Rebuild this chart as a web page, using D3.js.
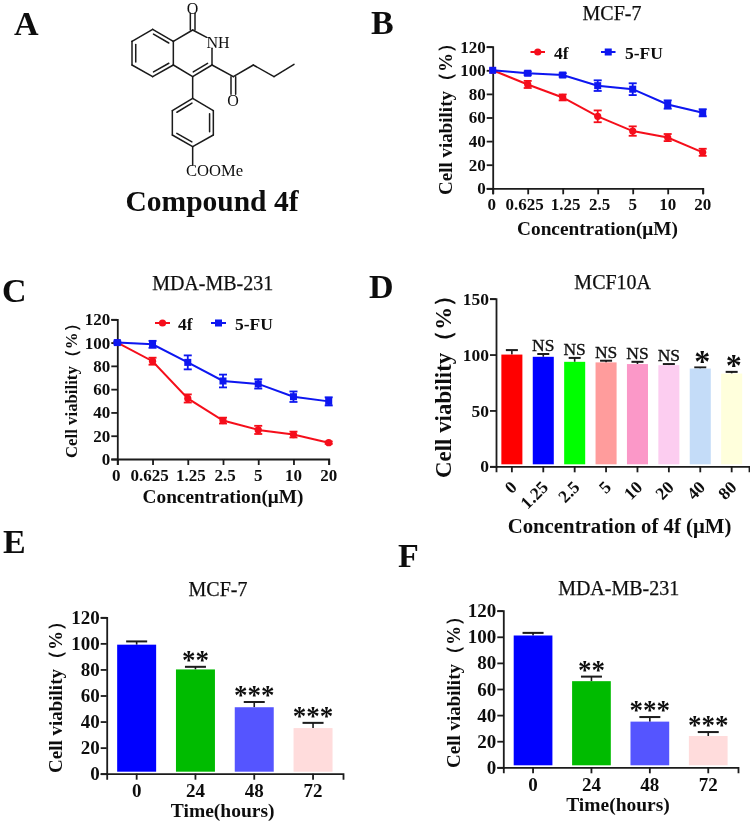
<!DOCTYPE html>
<html><head><meta charset="utf-8">
<style>
html,body{margin:0;padding:0;background:#fff}
svg{display:block}
text{font-family:"Liberation Serif",serif;fill:#111}
</style>
<script src="https://cdn.jsdelivr.net/npm/d3@7"></script>
</head><body><svg id="c" width="750" height="822"></svg>
<script>
// ---- data ----
const doseLabels = ["0","0.625","1.25","2.5","5","10","20"];
const seriesNames = ["4f","5-FU"];
const seriesColors = ["#f5111a","#0a14f0"];
const mcf7_4f = [100,88,77,61,48.5,43,30.5];
const mcf7_4fErr = [0,3,2.5,5,4,3,3];
const mcf7_fu = [100,97.5,96,87,84,71,64];
const mcf7_fuErr = [0,1.5,1.5,4.5,5,3.5,3];
const mda_4f = [100,84,52,33,25,21,14];
const mda_4fErr = [0,3,3.5,2.5,3.5,2.5,1];
const mda_fu = [100,98.5,83,67,64.5,53.5,49.5];
const mda_fuErr = [1,3,6,5.5,4,4.5,3.5];
const mcf10Labels = ["0","1.25","2.5","5","10","20","40","80"];
const mcf10Vals = [100,98,93.5,93,91.5,90.5,87.5,83];
const mcf10Err = [4,2.5,3.5,1.5,2,1,1,1.5];
const mcf10Sig = ["","NS","NS","NS","NS","NS","*","*"];
const mcf10Colors = ["#ff0000","#0000ff","#00ff00","#ff9c9c","#fb98c8","#fccdf0","#c4dcf8","#ffffdc"];
const timeLabels = ["0","24","48","72"];
const timeColors = ["#0000ff","#00bb00","#5555ff","#ffdcdc"];
const timeSig = ["","**","***","***"];
const timeMcf7 = [99,80,51,35];
const timeMcf7Err = [2.5,2,4,4];
const timeMda = [101,66,35,24];
const timeMdaErr = [2,3.5,3.5,3];

// molecule drawing: atoms in drawing units, bonds as atom pairs
const atoms = {a:[458,88],b:[520,124],c:[520,195],d:[458,230],e:[396,195],f:[396,124],
 g:[578,90],h:[578,40],i:[620,112],j:[636,145],k:[636,195],l:[578,230],m:[700,230],n:[700,283],
 o:[760,195],p:[822,230],q:[882,193],r:[578,295],s:[640,332],t:[640,405],u:[578,440],v:[517,405],w:[517,332],x:[578,495]};
const singleBonds = ["ab","bc","cd","de","ef","fa","bg","gi","jk","kl","lc","km","mo","op","pq","lr","rs","st","tu","uv","vw","wr","ux"];
const innerBonds = [["ab",7,"c"],["cd",7,"a"],["ef",7,"a"],["kl",7,"c"],["st",7,"u"],["uv",7,"r"],["wr",7,"u"]];
const doubleExo = ["gh","mn"];

const svg = d3.select("#c");
const ink = "#1a1a1a";
const root = svg.append("g").attr("filter","url(#soft)");
svg.append("defs").append("filter").attr("id","soft").attr("x",0).attr("y",0).attr("width","100%").attr("height","100%")
  .append("feGaussianBlur").attr("stdDeviation",0.45);

function txt(s,x,y,size,o={}){
  const t=root.append("text").attr("x",x).attr("y",y).attr("font-size",size).text(s)
    .attr("text-anchor",o.anchor||"middle");
  if(o.bold!==false) t.attr("font-weight","bold");
  if(o.heavy) t.attr("stroke","#111").attr("stroke-width",o.heavy);
  if(o.rot!==undefined) t.attr("transform",`rotate(${o.rot} ${x} ${y})`);
  return t;
}
// y titles start at the lower end of the axis title
function yTitle(x,yBottom,size){ return txt("Cell viability（%）",x,yBottom,size,{rot:-90,anchor:"start"}); }

function styleAxis(xa,ya,fs){
  [xa,ya].forEach(a=>{a.select(".domain").attr("stroke",ink).attr("stroke-width",1.8);
    a.selectAll(".tick line").attr("stroke",ink).attr("stroke-width",1.8);});
  ya.selectAll(".tick text").attr("font-family",'"Liberation Serif",serif').attr("font-weight","bold").attr("font-size",fs).attr("fill","#111");
}

// nudge of the crowded dose labels, as in the source figure
const doseNudge = {"0":-1,"0.625":-3,"1.25":3,"2.5":2};

function lineChart(c){
  const g=root.append("g");
  const x=d3.scalePoint().domain(doseLabels).range([c.x0,c.x1]);
  const y=d3.scaleLinear().domain([0,120]).range([c.y0,c.y1]);
  const xa=g.append("g").attr("transform",`translate(0,${c.y0})`).call(d3.axisBottom(x).tickSizeOuter(0).tickSize(6).tickFormat(""));
  const ya=g.append("g").attr("transform",`translate(${c.x0},0)`).call(d3.axisLeft(y).tickValues(d3.range(0,121,20)).tickSizeOuter(0).tickSize(6).tickPadding(1));
  styleAxis(xa,ya,c.fs);
  doseLabels.forEach(d=>txt(d,x(d)+(doseNudge[d]||0),c.y0+22,c.fs));
  const line=d3.line().x((d,i)=>x(doseLabels[i])).y(d=>y(d));
  c.series.forEach((s,k)=>{
    const col=seriesColors[k];
    g.append("path").datum(s.v).attr("d",line).attr("fill","none").attr("stroke",col).attr("stroke-width",2);
    s.v.forEach((v,i)=>{
      const X=x(doseLabels[i]),e=s.e[i];
      if(e>0){
        g.append("line").attr("x1",X).attr("x2",X).attr("y1",y(v-e)).attr("y2",y(v+e)).attr("stroke",col).attr("stroke-width",1.8);
        [v-e,v+e].forEach(w=>g.append("line").attr("x1",X-4).attr("x2",X+4).attr("y1",y(w)).attr("y2",y(w)).attr("stroke",col).attr("stroke-width",1.8));
      }
      marker(g,k,X,y(v),col);
    });
  });
  seriesNames.forEach((n,k)=>{
    const L=c.legend[k];
    g.append("line").attr("x1",L[0]).attr("x2",L[0]+L[3]).attr("y1",L[1]).attr("y2",L[1]).attr("stroke",seriesColors[k]).attr("stroke-width",2);
    marker(g,k,L[0]+L[3]/2,L[1],seriesColors[k]);
    txt(n,L[2],L[1]+6.5,c.fs+0.5,{anchor:"start"});
  });
}
function marker(g,k,X,Y,col){
  if(k===0) g.append("circle").attr("cx",X).attr("cy",Y).attr("r",3.6).attr("fill",col);
  else g.append("rect").attr("x",X-3.5).attr("y",Y-3.5).attr("width",7).attr("height",7).attr("fill",col);
}

function barChart(c){
  const g=root.append("g");
  const x=d3.scaleBand().domain(c.labels).range([c.x0,c.x1]).paddingInner(c.pi).paddingOuter(c.po).align(c.align);
  const y=d3.scaleLinear().domain(c.domain).range([c.y0,c.y1]);
  c.labels.forEach((l,i)=>{
    const X=x(l)+x.bandwidth()/2,top=c.v[i]+c.e[i];
    g.append("line").attr("x1",X).attr("x2",X).attr("y1",y(c.v[i])).attr("y2",y(top)).attr("stroke",ink).attr("stroke-width",1.6);
    g.append("line").attr("x1",X-c.cap).attr("x2",X+c.cap).attr("y1",y(top)).attr("y2",y(top)).attr("stroke",ink).attr("stroke-width",2);
    g.append("rect").attr("x",x(l)).attr("width",x.bandwidth()).attr("y",y(c.v[i])).attr("height",y(0)-y(c.v[i])-2).attr("fill",c.colors[i]);
    const s=c.sig[i];
    if(s==="NS") txt(s,X,y(top)-3,c.nsSize,{bold:false,heavy:.35});
    else if(s) txt(s,X+(s==="*"?2:0),y(top)+c.starDy,c.starSize);
  });
  const xa=g.append("g").attr("transform",`translate(0,${c.y0})`).call(d3.axisBottom(x).tickSizeOuter(0).tickSize(6).tickFormat(""));
  const ya=g.append("g").attr("transform",`translate(${c.x0},0)`).call(d3.axisLeft(y).tickValues(c.ticks).tickSizeOuter(0).tickSize(6).tickPadding(1));
  styleAxis(xa,ya,c.fs);
  c.labels.forEach(l=>{
    const X=x(l)+x.bandwidth()/2;
    if(c.rotated) txt(l,X+6,c.y0+22,c.fs,{anchor:"end",rot:-45});
    else txt(l,X,c.y0+c.labelDy,c.fs);
  });
}

// Panel letters
txt("A",14,35,34,{anchor:"start"});
txt("B",371,34,34,{anchor:"start"});
txt("C",2,302,34,{anchor:"start"});
txt("D",369,298,34,{anchor:"start"});
txt("E",3,553,34,{anchor:"start"});
txt("F",398,567,34,{anchor:"start"});

// Molecule
const mx=d3.scaleLinear().domain([0,3]).range([0,1]), my=mx;
const mol=root.append("g").attr("stroke",ink).attr("stroke-width",1.5).attr("fill","none").attr("stroke-linecap","round");
const P=k=>atoms[k];
const bond=(p,q)=>mol.append("line").attr("x1",mx(p[0])).attr("y1",my(p[1])).attr("x2",mx(q[0])).attr("y2",my(q[1]));
singleBonds.forEach(b=>bond(P(b[0]),P(b[1])));
innerBonds.forEach(([b,off,tow])=>{
  const p=P(b[0]),q=P(b[1]),t=P(tow);
  let nx=-(q[1]-p[1]),ny=q[0]-p[0];const len=Math.hypot(nx,ny);nx/=len;ny/=len;
  const side=((t[0]-p[0])*nx+(t[1]-p[1])*ny)>0?1:-1,o=off*1.6*side;
  const ux=(q[0]-p[0])*0.13,uy=(q[1]-p[1])*0.13;
  bond([p[0]+nx*o+ux,p[1]+ny*o+uy],[q[0]+nx*o-ux,q[1]+ny*o-uy]);
});
doubleExo.forEach(b=>{const p=P(b[0]),q=P(b[1]);bond([p[0]-7,p[1]],[q[0]-7,q[1]]);bond([p[0]+7,p[1]],[q[0]+7,q[1]]);});
txt("O",192.5,13.5,16,{bold:false});
txt("NH",206.5,47.5,16,{anchor:"start",bold:false});
txt("O",233,106,16,{bold:false});
txt("COOMe",186,176,16.6,{anchor:"start",bold:false});
txt("Compound 4f",212,211,29.5);

// B
txt("MCF-7",612,20,20,{bold:false,heavy:.25});
lineChart({x0:492.7,x1:702.7,y0:188.3,y1:46.7,fs:17,
  series:[{v:mcf7_4f,e:mcf7_4fErr},{v:mcf7_fu,e:mcf7_fuErr}],
  legend:[[530.5,52,554,14.5],[601,52,625,14.5]]});
yTitle(452,195,19);
txt("Concentration(μM)",597.5,235,19.3);

// C
txt("MDA-MB-231",212.7,290,20,{bold:false,heavy:.25});
lineChart({x0:117.3,x1:328.7,y0:459,y1:319.3,fs:17,
  series:[{v:mda_4f,e:mda_4fErr},{v:mda_fu,e:mda_fuErr}],
  legend:[[155,323,178,15],[211,323,235,15]]});
yTitle(77,458,16.8);
txt("Concentration(μM)",223,503,19.3);

// D
txt("MCF10A",612.7,289,20,{bold:false,heavy:.25});
barChart({labels:mcf10Labels,v:mcf10Vals,e:mcf10Err,sig:mcf10Sig,colors:mcf10Colors,x0:496,x1:749,y0:466.3,y1:298.7,
  domain:[0,150],ticks:[0,50,100,150],pi:.33,po:.194,align:.44,fs:17.5,cap:6,rotated:true,nsSize:17.5,starSize:32,starDy:4.5});
yTitle(451,478,22.9);
txt("Concentration of 4f (μM)",619.5,533,20.8);

// E
txt("MCF-7",218,596,20,{bold:false,heavy:.25});
barChart({labels:timeLabels,v:timeMcf7,e:timeMcf7Err,sig:timeSig,colors:timeColors,x0:106.7,x1:343,y0:773.7,y1:617.3,
  domain:[0,120],ticks:d3.range(0,121,20),pi:.337,po:.178,align:.5,fs:19,cap:10.5,labelDy:23,starSize:27,starDy:2});
yTitle(62,773,19);
txt("Time(hours)",222.7,816.5,19.5);

// F
txt("MDA-MB-231",618.7,594.7,20,{bold:false,heavy:.25});
barChart({labels:timeLabels,v:timeMda,e:timeMdaErr,sig:timeSig,colors:timeColors,x0:503.3,x1:738,y0:767.3,y1:610.7,
  domain:[0,120],ticks:d3.range(0,121,20),pi:.337,po:.178,align:.5,fs:19,cap:10.5,labelDy:24,starSize:27,starDy:2});
yTitle(460,768,19);
txt("Time(hours)",618,811,19.5);
</script></body></html>
